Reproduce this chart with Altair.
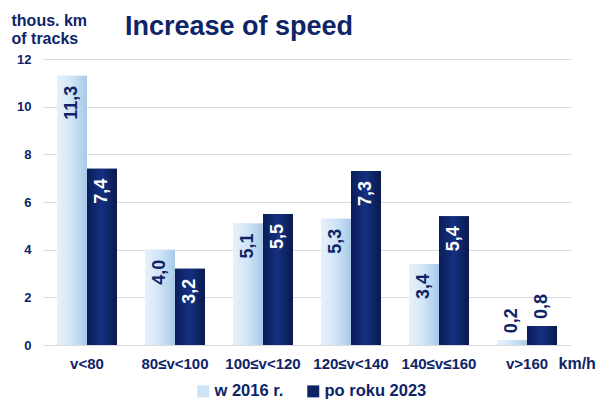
import altair as alt
import pandas as pd

categories = ["v<80", "80≤v<100", "100≤v<120", "120≤v<140", "140≤v≤160", "v>160"]
series_names = ["w 2016 r.", "po roku 2023"]
values_2016 = [11.3, 4.0, 5.1, 5.3, 3.4, 0.2]
values_2023 = [7.4, 3.2, 5.5, 7.3, 5.4, 0.8]
y_ticks = [0, 2, 4, 6, 8, 10, 12]

NAVY = "#0E2468"
LIGHT = "#CDE3F6"
DARK = "#0C2464"
FONT = "Liberation Sans"

rows = []
for c, a, b in zip(categories, values_2016, values_2023):
    for s, v in ((series_names[0], a), (series_names[1], b)):
        rows.append({"cat": c, "series": s, "v": v,
                     "lab": f"{v:.1f}".replace(".", ","),
                     "pos": "in" if v >= 1 else "out"})
df = pd.DataFrame(rows)

x_enc = alt.X("cat:N", sort=categories,
              scale=alt.Scale(paddingInner=0.32, paddingOuter=0.16),
              axis=alt.Axis(title="km/h", labelAngle=0, labelFont=FONT, labelFontSize=15,
                            labelFontWeight="bold", labelColor=NAVY, labelPadding=11,
                            ticks=False, domain=False, grid=False,
                            titleFont=FONT, titleFontSize=16, titleFontWeight="bold",
                            titleColor=NAVY, titleX=515, titleY=23, titleAlign="left",
                            titleBaseline="alphabetic", titleAnchor="start"))
xo_enc = alt.XOffset("series:N", sort=series_names,
                     scale=alt.Scale(paddingInner=0, paddingOuter=0))
y_enc = alt.Y("v:Q", scale=alt.Scale(domain=[0, 12], nice=False),
              axis=alt.Axis(values=y_ticks, title=["thous. km", "of tracks"],
                            titleAngle=0, titleX=-32, titleY=-34, titleAlign="left",
                            titleBaseline="alphabetic", titleLineHeight=18,
                            titleFont=FONT, titleFontSize=16, titleFontWeight="bold",
                            titleColor=NAVY, labelFont=FONT, labelFontSize=13,
                            labelFontWeight="bold", labelColor=NAVY, labelPadding=12,
                            ticks=False, domain=False, gridColor="#DCDCDC",
                            gridWidth=1.2))

base = alt.Chart(df)

bars = base.mark_bar().encode(
    x=x_enc, xOffset=xo_enc, y=y_enc,
    color=alt.Color("series:N", sort=series_names,
                    scale=alt.Scale(domain=series_names, range=[LIGHT, DARK]),
                    legend=alt.Legend(title=None, orient="none", legendX=152, legendY=324,
                                      direction="horizontal", symbolType="square",
                                      symbolSize=144, symbolStrokeWidth=0,
                                      labelFont=FONT, labelFontSize=16.5,
                                      labelFontWeight="bold", labelColor=NAVY,
                                      labelOffset=3, columnPadding=21, padding=0)))

light_grad = alt.Gradient(gradient="linear", x1=0, x2=1, y1=0, y2=0,
                          stops=[alt.GradientStop(offset=0, color="#E6F2FC"),
                                 alt.GradientStop(offset=0.5, color="#CFE4F7"),
                                 alt.GradientStop(offset=1, color="#A9C8E6")])
dark_grad = alt.Gradient(gradient="linear", x1=0, x2=1, y1=0, y2=0,
                         stops=[alt.GradientStop(offset=0, color="#0A1E58"),
                                alt.GradientStop(offset=0.5, color="#163082"),
                                alt.GradientStop(offset=1, color="#08194C")])

light_bars = base.mark_bar(color=light_grad).encode(x=x_enc, xOffset=xo_enc, y=y_enc).transform_filter(
    alt.datum.series == series_names[0])
dark_bars = base.mark_bar(color=dark_grad).encode(x=x_enc, xOffset=xo_enc, y=y_enc).transform_filter(
    alt.datum.series == series_names[1])

txt_common = dict(angle=270, baseline="middle", font=FONT, fontSize=18, fontWeight="bold")
lab_light = base.mark_text(align="right", dx=-10, color=NAVY, **txt_common).encode(
    x=x_enc, xOffset=xo_enc, y=y_enc, text="lab:N").transform_filter(
    (alt.datum.series == series_names[0]) & (alt.datum.pos == "in"))
lab_dark = base.mark_text(align="right", dx=-10, color="white", **txt_common).encode(
    x=x_enc, xOffset=xo_enc, y=y_enc, text="lab:N").transform_filter(
    (alt.datum.series == series_names[1]) & (alt.datum.pos == "in"))
lab_out = base.mark_text(align="left", dx=7, color=NAVY, **txt_common).encode(
    x=x_enc, xOffset=xo_enc, y=y_enc, text="lab:N").transform_filter(
    alt.datum.pos == "out")

title_df = pd.DataFrame({"t": ["Increase of speed"]})
title = alt.Chart(title_df).mark_text(align="left", baseline="alphabetic", font=FONT,
                                      fontSize=27, fontWeight="bold", color=NAVY).encode(
    x=alt.value(82), y=alt.value(-24), text="t:N")

chart = alt.layer(bars, light_bars, dark_bars, lab_light, lab_dark, lab_out, title).properties(
    width=528, height=286,
    autosize=alt.AutoSizeParams(type="none"),
    padding={"left": 43, "top": 59, "right": 29, "bottom": 56},
    background="white",
).configure_view(stroke=None)

chart.save("out.html", embed_options={"renderer": "svg", "actions": False})
